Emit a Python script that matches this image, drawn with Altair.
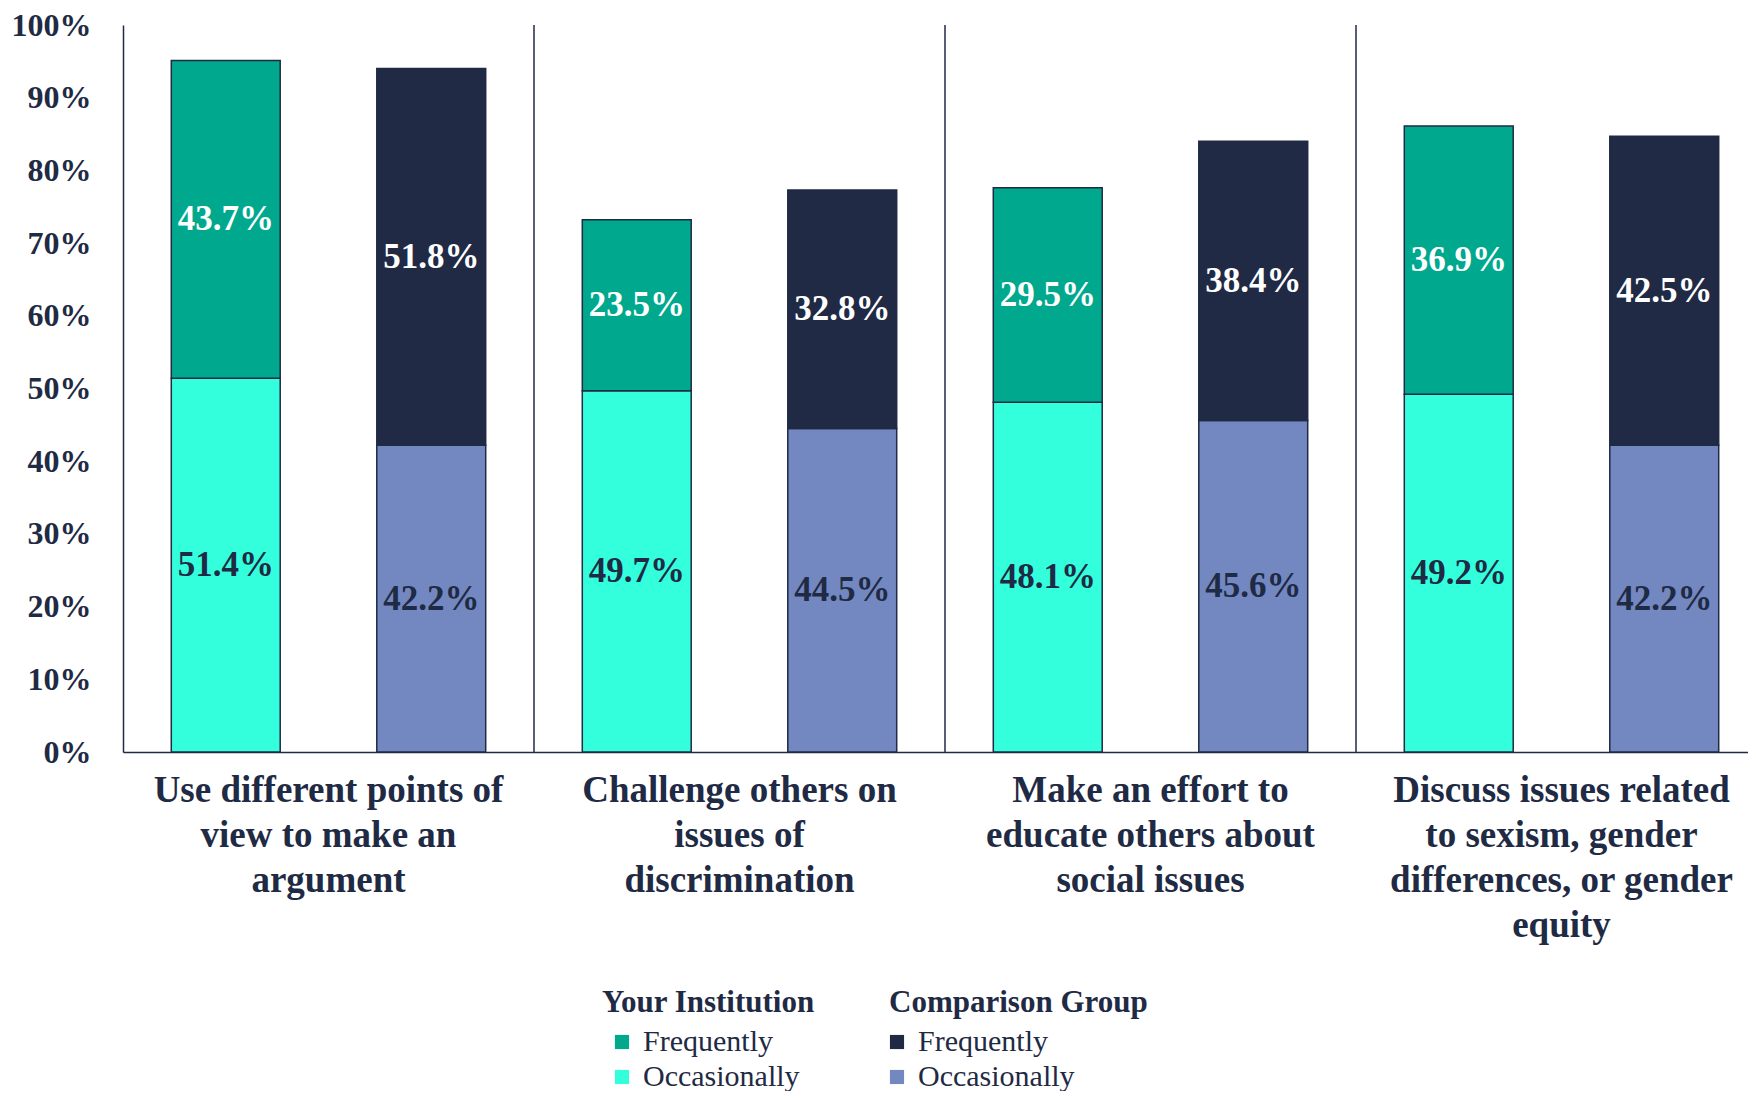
import altair as alt
import pandas as pd

groups = [
    "Use different points of\nview to make an\nargument",
    "Challenge others on\nissues of\ndiscrimination",
    "Make an effort to\neducate others about\nsocial issues",
    "Discuss issues related\nto sexism, gender\ndifferences, or gender\nequity",
]
series = ["Your Institution", "Comparison Group"]
levels = ["Frequently", "Occasionally"]
yi_freq = [43.7, 23.5, 29.5, 36.9]
yi_occ = [51.4, 49.7, 48.1, 49.2]
cg_freq = [51.8, 32.8, 38.4, 42.5]
cg_occ = [42.2, 44.5, 45.6, 42.2]
y_ticks = list(range(0, 101, 10))

rows = []
for i, g in enumerate(groups):
    rows.append(dict(group=g, series=series[0], level="Occasionally", value=yi_occ[i], ord=0))
    rows.append(dict(group=g, series=series[0], level="Frequently", value=yi_freq[i], ord=1))
    rows.append(dict(group=g, series=series[1], level="Occasionally", value=cg_occ[i], ord=0))
    rows.append(dict(group=g, series=series[1], level="Frequently", value=cg_freq[i], ord=1))
df = pd.DataFrame(rows)
div_df = pd.DataFrame({"group": groups[1:], "top": [100] * 3, "bottom": [0] * 3})

FONT = "Liberation Serif"
NAVY = "#1F2A44"
YI_COLORS = ["#00A88E", "#33FFDD"]
CG_COLORS = ["#202A45", "#7388C0"]

x_scale = alt.Scale(domain=groups, paddingInner=0, paddingOuter=0)
x_axis = alt.Axis(title=None, labelExpr="split(datum.label, '\\n')", labelAngle=0,
                  labelFont=FONT, labelFontSize=37, labelFontWeight="bold", labelColor=NAVY,
                  labelLineHeight=45, labelBaseline="top", labelPadding=20, labelLimit=600,
                  ticks=False, domainColor=NAVY, domainWidth=1.5, labelAlign="center",
                  labelOverlap=False)
y_scale = alt.Scale(domain=[0, 100])
y_axis = alt.Axis(title=None, values=y_ticks, labelExpr="datum.value + '%'", ticks=False,
                  grid=False, labelFont=FONT, labelFontSize=32, labelFontWeight="bold",
                  labelColor=NAVY, labelPadding=32, domainColor=NAVY, domainWidth=1.5)
xo = alt.XOffset("series:N", scale=alt.Scale(domain=series, paddingInner=0.47, paddingOuter=0.235))


def bars(s, colors, lx, so):
    return alt.Chart(df).transform_filter(alt.datum.series == s).mark_bar(
        stroke=NAVY, strokeWidth=1.5
    ).encode(
        x=alt.X("group:N", scale=x_scale, axis=x_axis),
        xOffset=xo,
        y=alt.Y("value:Q", stack="zero", scale=y_scale, axis=y_axis),
        color=alt.Color("level:N", scale=alt.Scale(domain=levels, range=colors),
                        legend=alt.Legend(title=s, orient="none", legendX=lx, legendY=963,
                                          direction="vertical", symbolType="square",
                                          symbolSize=200, symbolStrokeWidth=0,
                                          symbolOffset=so, labelFont=FONT, labelFontSize=30,
                                          labelColor=NAVY, labelOffset=6, titleFont=FONT,
                                          titleFontSize=31, titleFontWeight="bold",
                                          titleColor=NAVY, titlePadding=8, rowPadding=5,
                                          titleLimit=400, labelLimit=400)),
        order=alt.Order("ord:Q", sort="ascending"),
    )


yi = bars(series[0], YI_COLORS, 479, 5)
cg = bars(series[1], CG_COLORS, 766, -7)

text = alt.Chart(df).transform_stack(
    stack="value", groupby=["group", "series"], as_=["y0", "y1"],
    sort=[alt.SortField("ord", order="ascending")]
).transform_calculate(
    mid="(datum.y0 + datum.y1) / 2", lbl="format(datum.value, '.1f') + '%'"
).mark_text(font=FONT, fontSize=35, fontWeight="bold", baseline="middle").encode(
    x=alt.X("group:N", scale=x_scale, axis=x_axis),
    xOffset=xo,
    y=alt.Y("mid:Q", scale=y_scale, axis=y_axis),
    text="lbl:N",
    color=alt.condition(alt.datum.level == "Frequently", alt.value("white"), alt.value(NAVY)),
)

dividers = alt.Chart(div_df).mark_rule(color=NAVY, strokeWidth=1.5).encode(
    x=alt.X("group:N", bandPosition=0, scale=x_scale, axis=x_axis),
    y=alt.Y("top:Q", scale=y_scale, axis=y_axis),
    y2="bottom:Q",
)

chart = alt.layer(yi, cg, dividers, text).resolve_scale(color="independent").properties(
    width=1644, height=727,
    autosize=alt.AutoSizeParams(type="none"),
    padding={"left": 115, "top": 17, "right": -19, "bottom": 339},
).configure_view(stroke=None)

chart.save("out.html", embed_options={"renderer": "svg", "actions": False})
